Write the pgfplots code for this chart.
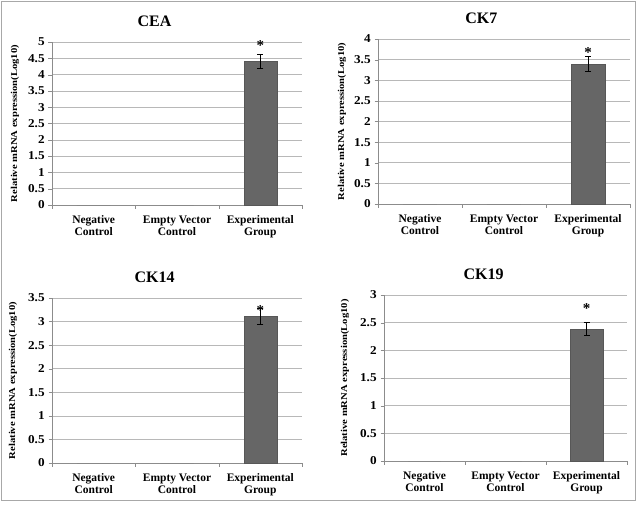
\documentclass[border=0pt]{standalone}
\usepackage{fontspec}
\setmainfont{Liberation Serif}
\usepackage{pgfplots}
\pgfplotsset{compat=1.18}
\definecolor{barcol}{HTML}{666666}
\definecolor{gridcol}{HTML}{B8B8B8}
\definecolor{axcol}{HTML}{8C8C8C}
\definecolor{framecol}{HTML}{A8A8A8}
\pgfplotsset{
  panel/.style={
    scale only axis,
    ybar, bar width=0.4, bar shift=0pt,
    xmin=-0.5, xmax=2.5, ymin=0,
    xtick={-0.5,0.5,1.5,2.5}, xticklabels={},
    extra x ticks={0,1,2},
    extra x tick labels={Negative\\Control, Empty Vector\\Control, Experimental\\Group},
    extra x tick style={major tick length=0pt, grid=none},
    xticklabel style={align=center, font=\fontsize{11.5}{12}\selectfont\bfseries, yshift=-7pt},
    axis x line*=bottom, axis y line*=left,
    axis line style={axcol, -},
    ymajorgrids, grid style={gridcol, line width=0.6pt},
    tick align=outside, major tick length=3.5pt,
    tick style={axcol},
    ytick distance=0.5,
    yticklabel style={font=\fontsize{12}{12}\selectfont\bfseries, xscale=1.1},
    /pgf/number format/assume math mode=true,
    every axis title/.style={at={(rel axis cs:0.41,1)}, yshift=21pt, anchor=center,
      font=\fontsize{16}{18}\selectfont\bfseries},
    ylabel={Relative mRNA expression(Log10)},
    clip=false,
  },
  ylab/.style={every axis y label/.style={at={(rel axis cs:0,0.5)}, xshift=-#1, rotate=90,
      xscale=1.18, anchor=center, font=\fontsize{9}{10}\selectfont\bfseries}},
}
\newcommand{\bars}[3]{%
  \addplot[fill=barcol, draw=none] coordinates {(0,0) (1,0)};
  \addplot[fill=barcol, draw=barcol!85!black, line width=0.3pt,
    error bars/.cd, y dir=both, y explicit,
    error bar style={black, line width=0.5pt},
    error mark options={rotate=90, mark size=3pt, black, line width=0.5pt}]
    coordinates {(2,#1) +- (0,#2)};
  \addplot[sharp plot, draw=none, mark=none, nodes near coords={*},
    every node near coord/.append style={anchor=center, font=\fontsize{15}{15}\selectfont\bfseries}]
    coordinates {(2,#3)};
}
\begin{document}
\begin{tikzpicture}
\useasboundingbox (0pt,0pt) rectangle (639pt,504pt);
\draw[framecol, line width=1pt] (1.5pt,3.5pt) rectangle (635.5pt,502.5pt);

\begin{axis}[panel, ylab=37pt, at={(52pt,299pt)}, anchor=south west,
  width=250pt, height=163pt, ymax=5, title={CEA}]
\bars{4.4}{0.22}{4.90}
\end{axis}

\begin{axis}[panel, ylab=36pt, at={(378pt,300pt)}, anchor=south west,
  width=252pt, height=165pt, ymax=4, title={CK7}]
\bars{3.4}{0.17}{3.68}
\end{axis}

\begin{axis}[panel, ylab=39pt, at={(52pt,41pt)}, anchor=south west,
  width=250pt, height=165pt, ymax=3.5, title={CK14}]
\bars{3.12}{0.17}{3.24}
\end{axis}

\begin{axis}[panel, ylab=39pt, at={(384pt,43pt)}, anchor=south west,
  width=243pt, height=166pt, ymax=3, title={CK19}]
\bars{2.39}{0.12}{2.75}
\end{axis}
\end{tikzpicture}
\end{document}
